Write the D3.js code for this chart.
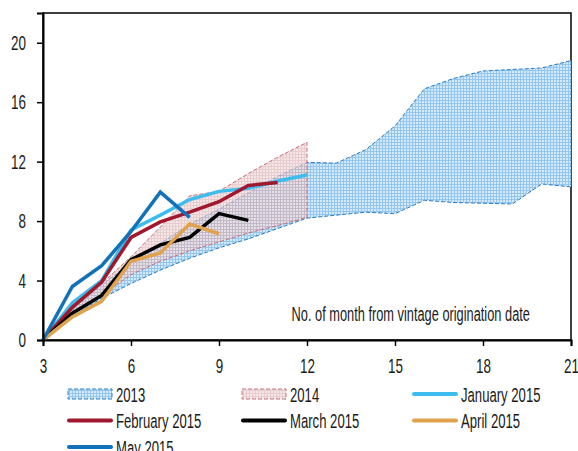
<!DOCTYPE html>
<html>
<head>
<meta charset="utf-8">
<script src="https://cdn.jsdelivr.net/npm/d3@7"></script>
<style>
  body { margin: 0; background: #fff; }
  text { font-family: "Liberation Sans", Arial, sans-serif; fill: #1a1a1a; }
</style>
</head>
<body>
<div id="chart"></div>
<script>
// ================================
// Data
// ================================
const months2013 = [3, 4, 5, 6, 7, 8, 9, 10, 11, 12, 13, 14, 15, 16, 17, 18, 19, 20, 21];
const low2013  = [0, 1.6, 2.8, 3.8, 4.7, 5.5, 6.2, 6.8, 7.5, 8.2, 8.4, 8.6, 8.5, 9.4, 9.25, 9.2, 9.15, 10.5, 10.3];
const high2013 = [0, 2.0, 3.7, 5.2, 6.5, 7.8, 8.8, 9.9, 11.0, 11.95, 11.9, 12.8, 14.4, 16.9, 17.6, 18.1, 18.2, 18.3, 18.8];

const months2014 = [3, 4, 5, 6, 7, 8, 9, 10, 11, 12];
const low2014  = [0, 1.8, 3.0, 4.4, 5.3, 6.0, 6.6, 7.2, 7.7, 8.25];
const high2014 = [0, 2.3, 3.8, 5.6, 7.6, 9.7, 10.0, 11.2, 12.3, 13.3];

const monthsLines = [3, 4, 5, 6, 7, 8, 9, 10, 11, 12];
const jan2015 = [0, 2.5, 4.0, 7.4, 8.4, 9.45, 10.0, 10.2, 10.7, 11.1];
const feb2015 = [0, 2.2, 3.9, 6.9, 7.95, 8.6, 9.3, 10.4, 10.6];
const mar2015 = [0, 1.8, 3.0, 5.4, 6.4, 6.9, 8.5, 8.05];
const apr2015 = [0, 1.55, 2.6, 5.3, 5.85, 7.8, 7.15];
const may2015 = [0, 3.6, 5.0, 7.3, 9.95, 8.25];

const xTicks = [3, 6, 9, 12, 15, 18, 21];
const yTicks = [0, 4, 8, 12, 16, 20];
const axisNote = 'No. of month from vintage origination date';

// ================================
// Layout
// ================================
const W = 578, H = 451;
const margin = { top: 13, right: 7, bottom: 111, left: 43 };
const width = W - margin.left - margin.right;
const height = H - margin.top - margin.bottom;
const SQUEEZE = 0.64; // the original uses a narrow condensed face

const svg = d3.select('#chart')
  .append('svg')
  .attr('width', W)
  .attr('height', H);

// Fill patterns
const defs = svg.append('defs');
const p13 = defs.append('pattern')
  .attr('id', 'pat2013')
  .attr('patternUnits', 'userSpaceOnUse')
  .attr('width', 3).attr('height', 3);
p13.append('rect').attr('width', 3).attr('height', 3).attr('fill', '#d4e9f9');
p13.append('rect').attr('width', 3).attr('height', 1).attr('fill', '#94c6ee');
p13.append('rect').attr('width', 1).attr('height', 3).attr('fill', '#94c6ee');

const p14 = defs.append('pattern')
  .attr('id', 'pat2014')
  .attr('patternUnits', 'userSpaceOnUse')
  .attr('width', 3).attr('height', 3);
p14.append('rect').attr('width', 3).attr('height', 3).attr('fill', '#f0d9d9');
p14.append('rect').attr('width', 3).attr('height', 1).attr('fill', '#dbb2b7');
p14.append('rect').attr('width', 1).attr('height', 3).attr('fill', '#dbb2b7');

const g = svg.append('g')
  .attr('transform', `translate(${margin.left},${margin.top})`);

// Scales
const x = d3.scaleLinear().domain([3, 21]).range([0, width]);
const y = d3.scaleLinear().domain([0, 22]).range([height, 0]);

// Frame (top and right)
g.append('rect')
  .attr('width', width)
  .attr('height', height)
  .attr('fill', 'none')
  .attr('stroke', '#000')
  .attr('stroke-width', 1.5);

// ================================
// Bands
// ================================
const area = d3.area()
  .x(d => x(d.m))
  .y0(d => y(d.lo))
  .y1(d => y(d.hi));

const bands = [
  { months: months2013, lo: low2013, hi: high2013, fill: 'url(#pat2013)', stroke: '#2a7cc4', opacity: 1 },
  { months: months2014, lo: low2014, hi: high2014, fill: 'url(#pat2014)', stroke: '#c46f7b', opacity: 0.65 }
];

bands.forEach(b => {
  const pts = b.months.map((m, i) => ({ m, lo: b.lo[i], hi: b.hi[i] }));
  g.append('path')
    .datum(pts)
    .attr('d', area)
    .attr('fill', b.fill)
    .attr('fill-opacity', b.opacity)
    .attr('stroke', b.stroke)
    .attr('stroke-width', 1)
    .attr('stroke-dasharray', '4,2');
});

// ================================
// Vintage lines
// ================================
const series = [
  { name: 'January 2015', values: jan2015, color: '#3dbdee' },
  { name: 'February 2015', values: feb2015, color: '#a0182e' },
  { name: 'March 2015', values: mar2015, color: '#000000' },
  { name: 'April 2015', values: apr2015, color: '#e0a24c' },
  { name: 'May 2015', values: may2015, color: '#1172b9' }
];

const line = d3.line()
  .x(d => x(d.m))
  .y(d => y(d.v));

series.forEach(s => {
  g.append('path')
    .datum(s.values.map((v, i) => ({ m: monthsLines[i], v })))
    .attr('fill', 'none')
    .attr('stroke', s.color)
    .attr('stroke-width', 3.5)
    .attr('d', line);
});

// ================================
// Axes
// ================================
const xAxis = g.append('g')
  .attr('transform', `translate(0,${height})`)
  .call(d3.axisBottom(x).tickValues(xTicks).tickSize(6).tickPadding(12));

const yAxis = g.append('g')
  .call(d3.axisLeft(y).tickValues(yTicks).tickSize(6).tickPadding(11));

[xAxis, yAxis].forEach(ax => {
  ax.select('.domain').attr('stroke', '#000').attr('stroke-width', 2);
  ax.selectAll('.tick line').attr('stroke', '#000').attr('stroke-width', 1.5);
  ax.selectAll('text')
    .attr('font-size', '21px')
    .attr('fill', '#1a1a1a');
  ax.attr('font-family', null).attr('font-size', null);
});

// Note inside the plot
g.append('text')
  .attr('x', x(19.6))
  .attr('y', y(1.25))
  .attr('text-anchor', 'end')
  .attr('font-size', '20px')
  .text(axisNote);

// ================================
// Legend
// ================================
const legendItems = [
  { name: '2013', type: 'band', fill: 'url(#pat2013)', stroke: '#2a7cc4', opacity: 1 },
  { name: '2014', type: 'band', fill: 'url(#pat2014)', stroke: '#c46f7b', opacity: 0.65 }
].concat(series.map(s => ({ name: s.name, type: 'line', color: s.color })));

const legendCols = [68, 242, 413];
const legendRow0 = 394, legendRowGap = 26.5;

const legend = svg.append('g');
legendItems.forEach((d, i) => {
  const lx = legendCols[i % 3];
  const ly = legendRow0 + Math.floor(i / 3) * legendRowGap;
  if (d.type === 'band') {
    legend.append('rect')
      .attr('x', lx)
      .attr('y', ly - 5)
      .attr('width', 44)
      .attr('height', 10)
      .attr('fill', d.fill)
      .attr('fill-opacity', d.opacity)
      .attr('stroke', d.stroke)
      .attr('stroke-width', 1)
      .attr('stroke-dasharray', '4,2');
  } else {
    legend.append('line')
      .attr('x1', lx + 1)
      .attr('x2', lx + 43)
      .attr('y1', ly)
      .attr('y2', ly)
      .attr('stroke', d.color)
      .attr('stroke-width', 4)
      .attr('stroke-linecap', 'round');
  }
  legend.append('text')
    .attr('x', lx + 48)
    .attr('y', ly + 7.5)
    .attr('font-size', '20.5px')
    .text(d.name);
});

// Squeeze every label to the condensed look of the original
svg.selectAll('text').each(function () {
  const len = this.getComputedTextLength();
  d3.select(this)
    .attr('textLength', len * SQUEEZE)
    .attr('lengthAdjust', 'spacingAndGlyphs');
});
</script>
</body>
</html>
